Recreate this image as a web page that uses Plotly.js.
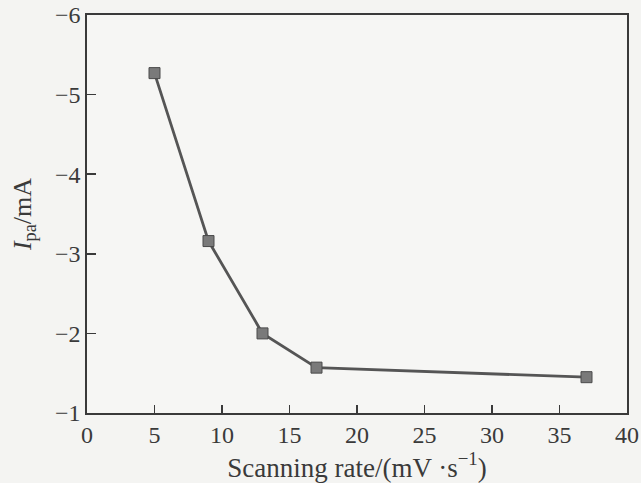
<!DOCTYPE html>
<html>
<head>
<meta charset="utf-8">
<script src="https://cdn.plot.ly/plotly-3.0.1.min.js"></script>
<style>
  html, body { margin: 0; padding: 0; background: #f4f4f2; }
  #chart { width: 641px; height: 483px; }
</style>
</head>
<body>
<div id="chart"></div>
<script>
// Anodic peak current versus scanning rate
const scanRate = [5, 9, 13, 17, 37];                     // mV·s^-1
const peakCurrent = [-5.27, -3.16, -2.0, -1.57, -1.45];  // mA

const xTicks = [0, 5, 10, 15, 20, 25, 30, 35, 40];
const yTicks = [-6, -5, -4, -3, -2, -1];

const serif = 'Liberation Serif, Times New Roman, serif';
const ink = '#3a3a3a';

const trace = {
  x: scanRate,
  y: peakCurrent,
  type: 'scatter',
  mode: 'lines+markers',
  line: { color: '#555555', width: 2.8 },
  marker: {
    symbol: 'square',
    size: 11,
    color: '#7a7a7a',
    line: { color: '#4a4a4a', width: 1 }
  },
  hoverinfo: 'skip'
};

const layout = {
  width: 641,
  height: 483,
  margin: { l: 87, r: 14, t: 15, b: 70 },
  paper_bgcolor: '#f4f4f2',
  plot_bgcolor: '#f6f6f4',
  showlegend: false,
  font: { family: serif, color: ink, size: 24 },
  xaxis: {
    range: [0, 40],
    tickvals: xTicks,
    ticktext: xTicks.map(String),
    ticks: 'inside',
    ticklen: 8,
    tickwidth: 1.5,
    tickcolor: ink,
    showline: true,
    mirror: true,
    linecolor: ink,
    linewidth: 1.6,
    showgrid: false,
    zeroline: false,
    tickfont: { family: serif, size: 24, color: ink },
    title: {
      text: 'Scanning rate/(mV \u00b7s<sup>\u22121</sup>)',
      font: { family: serif, size: 27, color: ink },
      standoff: 6
    }
  },
  yaxis: {
    range: [-1, -6],
    autorange: false,
    tickvals: yTicks,
    ticks: 'inside',
    ticklen: 9,
    tickwidth: 1.5,
    tickcolor: ink,
    showline: true,
    mirror: true,
    linecolor: ink,
    linewidth: 1.6,
    showgrid: false,
    zeroline: false,
    tickfont: { family: serif, size: 24, color: ink },
    title: {
      text: '<i>I</i><sub>pa</sub>/mA',
      font: { family: serif, size: 26, color: ink },
      standoff: 16
    }
  }
};

Plotly.newPlot('chart', [trace], layout, { staticPlot: true, displayModeBar: false });
</script>
</body>
</html>
